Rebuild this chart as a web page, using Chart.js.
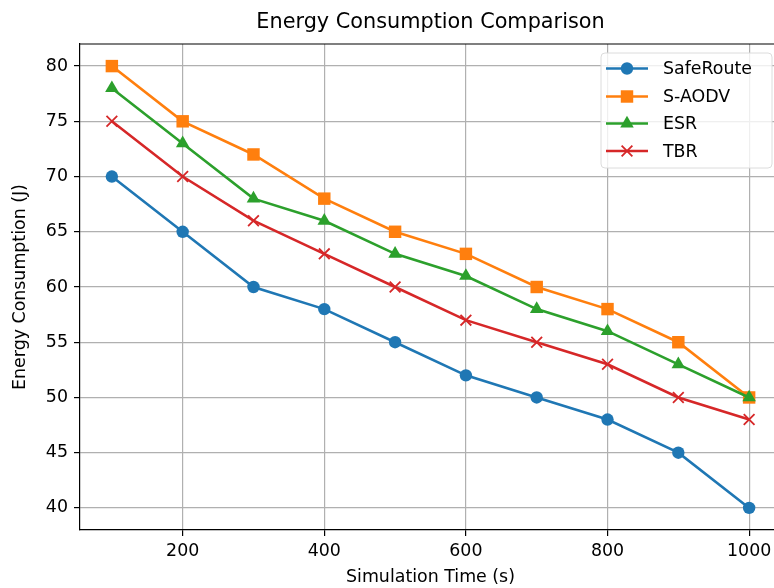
<!DOCTYPE html>
<html>
<head>
<meta charset="utf-8">
<script src="https://cdn.jsdelivr.net/npm/chart.js@4/dist/chart.umd.min.js"></script>
<style>
  html, body { margin: 0; padding: 0; background: #fff; overflow: hidden; width: 774px; height: 588px; }
  #wrap { width: 774px; height: 588px; overflow: hidden; position: relative; }
  #box { width: 800px; height: 588px; position: absolute; left: 0; top: 0; }
</style>
</head>
<body>
<div id="wrap"><div id="box"><canvas id="c" width="800" height="588"></canvas></div></div>
<script>
const simTimes = [100, 200, 300, 400, 500, 600, 700, 800, 900, 1000];
const safeRoute = [70, 65, 60, 58, 55, 52, 50, 48, 45, 40];
const sAodv = [80, 75, 72, 68, 65, 63, 60, 58, 55, 50];
const esr = [78, 73, 68, 66, 63, 61, 58, 56, 53, 50];
const tbr = [75, 70, 66, 63, 60, 57, 55, 53, 50, 48];
const xTicks = [200, 400, 600, 800, 1000];
const yTicks = [40, 45, 50, 55, 60, 65, 70, 75, 80];
const seriesNames = ['SafeRoute', 'S-AODV', 'ESR', 'TBR'];
const titleText = 'Energy Consumption Comparison';
const xLabel = 'Simulation Time (s)';
const yLabel = 'Energy Consumption (J)';

const colors = ['#1f77b4', '#ff7f0e', '#2ca02c', '#d62728'];
const markers = ['circle', 'rect', 'triangle', 'crossRot'];
const markerRadius = [6.2, 8.8, 7.8, 7.6];
const markerBorder = [0, 0, 0, 1.8];
const FONT = 'DejaVu Sans';

function pts(vals) { return simTimes.map((x, i) => ({ x: x, y: vals[i] })); }
const allSeries = [safeRoute, sAodv, esr, tbr];

const datasets = allSeries.map((vals, i) => ({
  label: seriesNames[i],
  data: pts(vals),
  order: 3 - i,
  borderColor: colors[i],
  backgroundColor: colors[i],
  borderWidth: 2.6,
  pointStyle: markers[i],
  pointRadius: markerRadius[i],
  pointBorderWidth: markerBorder[i],
  pointBorderColor: colors[i],
  pointBackgroundColor: colors[i],
  tension: 0,
  fill: false
}));

const overlay = {
  id: 'overlay',
  afterDraw(chart) {
    const ctx = chart.ctx;
    const ca = chart.chartArea;
    ctx.save();
    ctx.strokeStyle = '#000';
    ctx.lineWidth = 1.2;
    ctx.beginPath();
    ctx.moveTo(ca.left, ca.top);
    ctx.lineTo(ca.right, ca.top);
    ctx.stroke();
    ctx.fillStyle = '#000';
    ctx.font = '20.8px "' + FONT + '"';
    ctx.textAlign = 'center';
    ctx.textBaseline = 'middle';
    ctx.fillText(titleText, (ca.left + ca.right) / 2, 23);
    const lx = 601, ly = 53, lw = 171, lh = 115;
    ctx.beginPath();
    ctx.roundRect(lx, ly, lw, lh, 4);
    ctx.fillStyle = 'rgba(255,255,255,0.8)';
    ctx.fill();
    ctx.strokeStyle = '#dcdcdc';
    ctx.lineWidth = 1;
    ctx.stroke();
    const rowY = [68.5, 96.5, 123.5, 151];
    ctx.font = '17.4px "' + FONT + '"';
    ctx.textAlign = 'left';
    for (let i = 0; i < seriesNames.length; i++) {
      const y = rowY[i];
      ctx.strokeStyle = colors[i];
      ctx.lineWidth = 2.6;
      ctx.beginPath();
      ctx.moveTo(606, y);
      ctx.lineTo(648, y);
      ctx.stroke();
      ctx.fillStyle = colors[i];
      ctx.strokeStyle = colors[i];
      ctx.lineWidth = markerBorder[i];
      Chart.helpers.drawPoint(ctx, { pointStyle: markers[i], radius: markerRadius[i], borderWidth: markerBorder[i], rotation: 0 }, 627, y);
      ctx.fillStyle = '#000';
      ctx.fillText(seriesNames[i], 663, y + 1);
    }
    ctx.restore();
  }
};

new Chart(document.getElementById('c'), {
  type: 'line',
  data: { datasets: datasets },
  options: {
    responsive: false,
    animation: false,
    devicePixelRatio: 1,
    layout: { padding: { left: 0, top: 44, right: 19, bottom: 0 } },
    plugins: {
      legend: { display: false },
      title: { display: false },
      tooltip: { enabled: false }
    },
    scales: {
      x: {
        type: 'linear',
        min: 55, max: 1045,
        afterBuildTicks(scale) { scale.ticks = xTicks.map(v => ({ value: v })); },
        afterFit(scale) { scale.height = 58; },
        grid: { color: '#b0b0b0', lineWidth: 1.2, tickColor: '#000', tickLength: 6, drawTicks: true },
        border: { color: '#000', width: 1.2 },
        ticks: { color: '#000', font: { family: FONT, size: 17.4 }, padding: 5, maxRotation: 0, autoSkip: false,
                 callback: v => String(v) },
        title: { display: true, text: xLabel, color: '#000', font: { family: FONT, size: 17.4 }, padding: { top: 0, bottom: 0 } }
      },
      y: {
        type: 'linear',
        min: 38, max: 82,
        afterBuildTicks(scale) { scale.ticks = yTicks.map(v => ({ value: v })); },
        afterFit(scale) { scale.width = 80; },
        grid: { color: '#b0b0b0', lineWidth: 1.2, tickColor: '#000', tickLength: 6, drawTicks: true },
        border: { color: '#000', width: 1.2 },
        ticks: { color: '#000', font: { family: FONT, size: 17.4 }, padding: 6, autoSkip: false,
                 callback: v => String(v) },
        title: { display: true, text: yLabel, color: '#000', font: { family: FONT, size: 17.4 }, padding: { top: 10, bottom: 0 } }
      }
    }
  },
  plugins: [overlay]
});
</script>
</body>
</html>
